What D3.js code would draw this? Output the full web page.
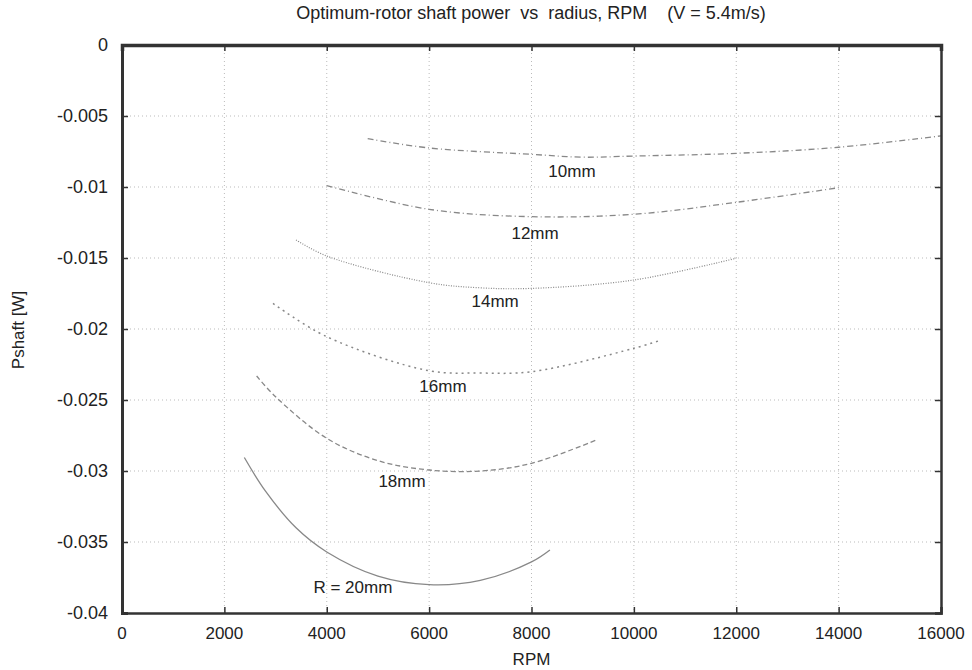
<!DOCTYPE html>
<meta charset="utf-8">
<html>
<head>
<title>Optimum-rotor shaft power</title>
<script src="https://cdn.jsdelivr.net/npm/d3@7"></script>
<style>
body { margin: 0; background: #fff; }
text { font-family: "Liberation Sans", Arial, Helvetica, sans-serif; fill: #222; }
</style>
</head>
<body>
<div id="chart"></div>
<script>
// values (RPM, shaft power in W)
var rpm10 = [4800, 6000, 8000, 9000, 10000, 12000, 14000, 16000];
var pow10 = [-0.0066, -0.00725, -0.0077, -0.0079, -0.00782, -0.00763, -0.0072, -0.0064];
var rpm12 = [4000, 6000, 8000, 10000, 12000, 14000];
var pow12 = [-0.0099, -0.01157, -0.01209, -0.01192, -0.01108, -0.01005];
var rpm14 = [3400, 4000, 6000, 7000, 8000, 10000, 12000];
var pow14 = [-0.01373, -0.01486, -0.01674, -0.0171, -0.01714, -0.01655, -0.01502];
var rpm16 = [2950, 4000, 6000, 7000, 8000, 10000, 10500];
var pow16 = [-0.0182, -0.02054, -0.02294, -0.0231, -0.02301, -0.02136, -0.02082];
var rpm18 = [2630, 3000, 4000, 5000, 6000, 7000, 8000, 9300];
var pow18 = [-0.02331, -0.02477, -0.0277, -0.02927, -0.02993, -0.0300, -0.02946, -0.02777];
var rpm20 = [2390, 2800, 3400, 4000, 5000, 6000, 7000, 8000, 8360];
var pow20 = [-0.02905, -0.0314, -0.0340, -0.0357, -0.0374, -0.0380, -0.0377, -0.0364, -0.03556];

var curveNames = ["10mm", "12mm", "14mm", "16mm", "18mm", "R = 20mm"];
var labelRpm = [8790, 8070, 7290, 6270, 5470, 4510];
var labelPow = [-0.0093, -0.01366, -0.01845, -0.02444, -0.03113, -0.03859];

var xTicks = [0, 2000, 4000, 6000, 8000, 10000, 12000, 14000, 16000];
var yTicks = [0, -0.005, -0.01, -0.015, -0.02, -0.025, -0.03, -0.035, -0.04];

var width = 972, height = 670;
var margin = {top: 45, right: 31, bottom: 57, left: 122};

var svg = d3.select("#chart").append("svg")
    .attr("width", width).attr("height", height);

var x = d3.scaleLinear().domain([0, 16000]).range([margin.left, width - margin.right]);
var y = d3.scaleLinear().domain([-0.04, 0]).range([height - margin.bottom, margin.top]);

// dotted grid
svg.append("g").selectAll("line").data(xTicks.slice(1, -1)).enter().append("line")
    .attr("x1", d => x(d)).attr("x2", d => x(d))
    .attr("y1", y(0)).attr("y2", y(-0.04))
    .style("stroke", "#bbb").style("stroke-dasharray", "1,3");
svg.append("g").selectAll("line").data(yTicks.slice(1, -1)).enter().append("line")
    .attr("x1", x(0)).attr("x2", x(16000))
    .attr("y1", d => y(d)).attr("y2", d => y(d))
    .style("stroke", "#bbb").style("stroke-dasharray", "1,3");

// curves
var series = [
  {rpm: rpm10, pow: pow10, dash: "6,3,1,3", w: 1.3},
  {rpm: rpm12, pow: pow12, dash: "6,3,1,3", w: 1.3},
  {rpm: rpm14, pow: pow14, dash: "1,1.5", w: 1.2},
  {rpm: rpm16, pow: pow16, dash: "2,4", w: 1.5},
  {rpm: rpm18, pow: pow18, dash: "5,3", w: 1.3},
  {rpm: rpm20, pow: pow20, dash: null, w: 1.3}
];
var line = d3.line().x(d => x(d[0])).y(d => y(d[1])).curve(d3.curveCatmullRom.alpha(0.5));
series.forEach(function (s) {
  svg.append("path")
    .datum(s.rpm.map((r, i) => [r, s.pow[i]]))
    .attr("d", line)
    .style("fill", "none")
    .style("stroke", "#888")
    .style("stroke-width", s.w)
    .style("stroke-dasharray", s.dash);
});

svg.selectAll("text.curveLabel").data(curveNames).enter().append("text")
    .attr("class", "curveLabel")
    .attr("x", (d, i) => x(labelRpm[i]))
    .attr("y", (d, i) => y(labelPow[i]))
    .attr("text-anchor", "middle")
    .style("font-size", "17px")
    .text(d => d);

// frame with inner ticks
var xAxisB = d3.axisBottom(x).tickValues(xTicks).tickSize(-6).tickFormat("");
var xAxisT = d3.axisTop(x).tickValues(xTicks).tickSize(-6).tickFormat("");
var yAxisL = d3.axisLeft(y).tickValues(yTicks).tickSize(-6).tickFormat("");
var yAxisR = d3.axisRight(y).tickValues(yTicks).tickSize(-6).tickFormat("");
[[xAxisB, "translate(0," + y(-0.04) + ")", 2.5], [xAxisT, "translate(0," + y(0) + ")", 3.5],
 [yAxisL, "translate(" + x(0) + ",0)", 3], [yAxisR, "translate(" + x(16000) + ",0)", 2.5]].forEach(function (a) {
  var g = svg.append("g").attr("transform", a[1]).call(a[0]);
  g.select(".domain").style("stroke", "#333").style("stroke-width", a[2]);
  g.selectAll(".tick line").style("stroke", "#333").style("stroke-width", 1.5);
});

// tick labels
svg.selectAll("text.xt").data(xTicks).enter().append("text")
    .attr("x", d => x(d)).attr("y", y(-0.04) + 26)
    .attr("text-anchor", "middle").style("font-size", "17px")
    .text(d => d);
svg.selectAll("text.yt").data(yTicks).enter().append("text")
    .attr("x", x(0) - 14).attr("y", d => y(d) + 6)
    .attr("text-anchor", "end").style("font-size", "18px")
    .text(d => d);

svg.append("text")
    .attr("x", 531).attr("y", 19)
    .attr("text-anchor", "middle").style("font-size", "18px")
    .style("white-space", "pre")
    .text("Optimum-rotor shaft power  vs  radius, RPM    (V = 5.4m/s)");
svg.append("text")
    .attr("x", x(8000)).attr("y", 665)
    .attr("text-anchor", "middle").style("font-size", "17px")
    .text("RPM");
svg.append("text")
    .attr("transform", "translate(24,330) rotate(-90)")
    .attr("text-anchor", "middle").style("font-size", "17px")
    .text("Pshaft [W]");
</script>
</body>
</html>
